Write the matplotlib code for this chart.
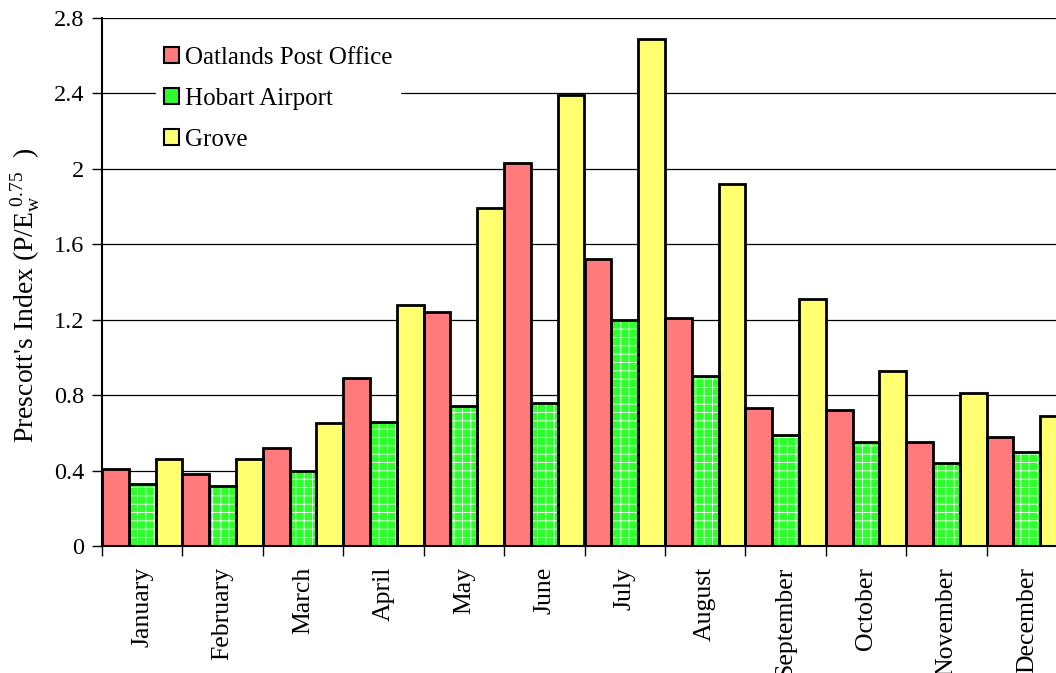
import numpy as np
import matplotlib
matplotlib.use("Agg")
import matplotlib.pyplot as plt
from matplotlib.patches import Patch

plt.rcParams['font.family'] = ['Liberation Serif', 'DejaVu Serif']
plt.rcParams['mathtext.fontset'] = 'custom'
plt.rcParams['mathtext.rm'] = 'Liberation Serif'
plt.rcParams['mathtext.it'] = 'Liberation Serif'
plt.rcParams['hatch.linewidth'] = 0.6

months = ["January", "February", "March", "April", "May", "June",
          "July", "August", "September", "October", "November", "December"]
oatlands = [0.41, 0.38, 0.52, 0.89, 1.24, 2.03, 1.52, 1.21, 0.73, 0.72, 0.55, 0.58]
hobart = [0.33, 0.32, 0.40, 0.66, 0.74, 0.76, 1.20, 0.90, 0.59, 0.55, 0.44, 0.50]
grove = [0.46, 0.46, 0.65, 1.28, 1.79, 2.39, 2.69, 1.92, 1.31, 0.93, 0.81, 0.69]

series = [("Oatlands Post Office", oatlands, "#ff7a7a", None),
          ("Hobart Airport", hobart, "#2cff2c", "++"),
          ("Grove", grove, "#ffff70", None)]

fig = plt.figure(figsize=(10.56, 6.73), dpi=100)
ax = fig.add_axes([102 / 1056, 1 - 546 / 673, 965 / 1056, 528 / 673])

x = np.arange(len(months))
w = 1 / 3
handles = []
for j, (name, vals, col, hat) in enumerate(series):
    ax.bar(x + j * w, vals, width=w, align='edge', color=col,
           edgecolor='white', linewidth=0, hatch=hat, zorder=2)
    ax.bar(x + j * w, vals, width=w, align='edge', fill=False,
           edgecolor='black', linewidth=2, zorder=3)
    handles.append(Patch(facecolor=col, edgecolor='black', linewidth=1.5, label=name))

ax.set_xlim(0, 12)
ax.set_ylim(0, 2.8)
ax.set_yticks(np.arange(0, 2.81, 0.4))
ax.set_yticklabels(["0", "0.4", "0.8", "1.2", "1.6", "2", "2.4", "2.8"])
ax.yaxis.grid(True, color='black', linewidth=0.9, zorder=0)
ax.set_axisbelow(True)

ax.set_xticks(np.arange(0, 13))
ax.set_xticklabels([])
ax.set_xticks(x + 0.5, minor=True)
ax.set_xticklabels(months, minor=True, rotation=90, fontsize=18.5, va='top')
ax.tick_params(axis='x', which='minor', length=0, pad=15)
ax.tick_params(axis='x', which='major', length=7, width=1, direction='out')
ax.tick_params(axis='y', length=7, width=1, labelsize=17.5, pad=6)

for s in ['top', 'right']:
    ax.spines[s].set_visible(False)
ax.spines['left'].set_linewidth(1.5)
ax.spines['bottom'].set_linewidth(1.5)

ax.set_ylabel(r"Prescott's Index (P/E$_{\mathrm{w}}^{\ 0.75}$$\ \ $)", fontsize=20)
ax.yaxis.set_label_coords(-60 / 965, (546 - 295) / 528)

leg = ax.legend(handles=handles, loc='upper left', bbox_to_anchor=(54 / 965, (546 - 39) / 528),
                borderaxespad=0, fontsize=18, frameon=True, framealpha=1, edgecolor='white',
                fancybox=False, handlelength=0.6, handleheight=0.6,
                handletextpad=0.25, labelspacing=0.76, borderpad=0.3)
leg.set_zorder(5)

fig.savefig("out.png", dpi=100)
